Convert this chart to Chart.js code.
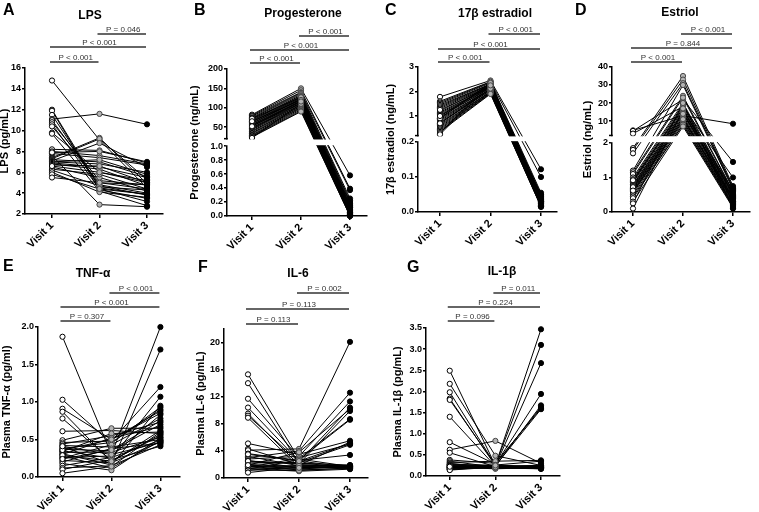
<!DOCTYPE html>
<html><head><meta charset="utf-8">
<script src="https://cdn.jsdelivr.net/npm/chart.js@4/dist/chart.umd.min.js"></script>
<style>
html,body{margin:0;padding:0;background:#fff;}
body{width:759px;height:512px;position:relative;overflow:hidden;}
canvas{position:absolute;}
</style></head><body>
<canvas id="cA"></canvas><canvas id="cB"></canvas><canvas id="cC"></canvas><canvas id="cD"></canvas>
<canvas id="cE"></canvas><canvas id="cF"></canvas><canvas id="cG"></canvas>
<script>
// ---------------- DATA ----------------
const visitLabels = ['Visit 1', 'Visit 2', 'Visit 3'];

// A: LPS (pg/mL)
const lpsV1 = [14.8, 12.0, 11.9, 11.5, 11.1, 11.0, 10.8, 10.6, 10.4, 9.8, 9.7, 8.2, 8.0, 7.8, 7.6, 7.4, 7.3, 7.2, 7.1, 7.0, 7.0, 6.9, 6.8, 6.7, 6.5, 6.3, 6.2, 6.0, 5.8, 5.5, 7.9, 6.6];
const lpsV2 = [9.1, 4.5, 4.3, 4.6, 11.6, 4.8, 5.2, 4.4, 5.0, 6.0, 4.2, 8.1, 7.6, 7.4, 2.9, 9.3, 9.2, 7.0, 8.8, 6.8, 7.2, 6.5, 6.3, 6.6, 5.5, 5.8, 4.7, 4.1, 4.4, 5.0, 8.0, 6.0];
const lpsV3 = [4.5, 3.9, 3.5, 4.3, 10.6, 4.0, 4.8, 3.2, 4.4, 5.0, 2.8, 6.9, 6.8, 6.7, 2.7, 4.9, 5.3, 5.6, 6.5, 6.0, 5.8, 5.5, 4.7, 5.0, 4.2, 4.4, 3.8, 3.6, 3.9, 4.8, 7.0, 5.2];
const lpsTicks = [2, 4, 6, 8, 10, 12, 14, 16];
const lpsP = ['P < 0.001', 'P < 0.001', 'P = 0.046'];

// B: Progesterone (ng/mL)
const progV1 = [82, 80, 78, 75, 73, 70, 68, 66, 64, 62, 60, 58, 56, 55, 53, 50, 48, 46, 45, 43, 40, 38, 35, 33, 30, 28, 26, 24, 22, 72, 65, 52];
const progV2 = [150, 145, 140, 138, 135, 132, 130, 128, 126, 125, 123, 122, 120, 118, 117, 115, 113, 112, 110, 108, 106, 104, 102, 100, 98, 95, 92, 90, 110, 127, 120, 116];
const progV3 = [0.58, 0.39, 0.37, 0.25, 0.22, 0.2, 0.18, 0.16, 0.15, 0.13, 0.12, 0.1, 0.09, 0.08, 0.07, 0.06, 0.05, 0.05, 0.04, 0.03, 0.03, 0.02, 0.02, 0.01, 0.01, 0.01, 0.0, 0.0, 0.12, 0.1, 0.14, 0.04];
const progTicks = [0, 0.2, 0.4, 0.6, 0.8, 1.0, 50, 100, 150, 200];
const progP = ['P < 0.001', 'P < 0.001', 'P < 0.001'];

// C: 17β estradiol (ng/mL)
const e2V1 = [1.78, 1.6, 1.55, 1.5, 1.45, 1.4, 1.35, 1.3, 1.2, 1.15, 1.1, 1.05, 1.0, 0.95, 0.9, 0.85, 0.8, 0.75, 0.7, 0.65, 0.6, 0.55, 0.5, 0.45, 0.4, 0.35, 0.3, 0.25, 1.25, 0.9, 0.7, 1.0];
const e2V2 = [2.45, 2.4, 2.38, 2.35, 2.3, 2.3, 2.28, 2.25, 2.25, 2.2, 2.2, 2.18, 2.15, 2.15, 2.1, 2.1, 2.08, 2.05, 2.05, 2.0, 2.0, 1.98, 1.95, 1.95, 1.92, 1.9, 2.4, 2.3, 2.2, 2.35, 2.12, 2.25];
const e2V3 = [0.122, 0.1, 0.055, 0.05, 0.048, 0.045, 0.042, 0.04, 0.038, 0.035, 0.033, 0.03, 0.03, 0.028, 0.027, 0.025, 0.025, 0.023, 0.022, 0.02, 0.02, 0.018, 0.018, 0.016, 0.015, 0.015, 0.035, 0.04, 0.03, 0.025, 0.045, 0.02];
const e2Ticks = [0, 0.1, 0.2, 1, 2, 3];
const e2P = ['P < 0.001', 'P < 0.001', 'P < 0.001'];

// D: Estriol (ng/mL)
const e3V1 = [4.8, 4.5, 3.0, 1.85, 1.8, 1.7, 1.2, 1.15, 1.1, 1.0, 0.95, 0.9, 0.88, 0.85, 0.8, 0.78, 0.75, 0.7, 0.68, 0.65, 0.6, 0.58, 0.55, 0.5, 0.45, 0.4, 0.3, 0.25, 0.1, 0.72, 0.62, 0.92];
const e3V2 = [13, 22, 18, 35, 33, 31, 30, 24, 23, 20, 19, 18, 17, 16, 15, 15, 14, 13, 12, 12, 11, 10, 10, 9, 8, 8, 7, 20, 16, 14, 11, 17];
const e3V3 = [8.5, 1.45, 1.0, 0.75, 0.7, 0.68, 0.65, 0.6, 0.58, 0.55, 0.52, 0.5, 0.48, 0.45, 0.42, 0.4, 0.38, 0.35, 0.32, 0.3, 0.28, 0.25, 0.22, 0.2, 0.18, 0.15, 0.12, 0.1, 0.62, 0.55, 0.4, 0.3];
const e3Ticks = [0, 1, 2, 10, 20, 30, 40];
const e3P = ['P < 0.001', 'P = 0.844', 'P < 0.001'];

// E: Plasma TNF-α (pg/ml)
const tnfV1 = [1.87, 1.03, 0.91, 0.87, 0.78, 0.61, 0.49, 0.46, 0.44, 0.42, 0.40, 0.38, 0.37, 0.35, 0.34, 0.33, 0.31, 0.30, 0.28, 0.26, 0.25, 0.22, 0.20, 0.18, 0.15, 0.12, 0.10, 0.05, 0.36, 0.29, 0.41, 0.24];
const tnfV2 = [0.30, 0.45, 0.50, 0.20, 0.22, 0.62, 0.65, 0.48, 0.55, 0.40, 0.18, 0.46, 0.35, 0.25, 0.58, 0.33, 0.16, 0.52, 0.12, 0.28, 0.43, 0.19, 0.38, 0.09, 0.26, 0.15, 0.23, 0.14, 0.50, 0.21, 0.30, 0.36];
const tnfV3 = [2.00, 0.93, 0.85, 0.62, 0.55, 0.58, 0.65, 1.20, 0.73, 0.50, 1.70, 0.90, 0.70, 1.07, 0.60, 0.53, 0.95, 0.67, 0.48, 0.83, 0.78, 0.47, 0.45, 0.52, 0.49, 0.43, 0.41, 0.60, 0.88, 0.57, 0.46, 0.75];
const tnfTicks = [0, 0.5, 1.0, 1.5, 2.0];
const tnfP = ['P = 0.307', 'P < 0.001', 'P < 0.001'];

// F: Plasma IL-6 (pg/mL)
const il6V1 = [15.3, 14.0, 11.7, 10.4, 9.5, 9.2, 8.9, 5.1, 4.3, 4.1, 3.6, 3.2, 3.0, 2.8, 2.6, 2.4, 2.2, 2.0, 1.9, 1.8, 1.7, 1.6, 1.5, 1.4, 1.3, 1.2, 1.1, 0.8, 2.5, 1.7, 3.5, 1.9];
const il6V2 = [2.8, 2.2, 3.0, 2.5, 1.9, 2.4, 1.6, 3.5, 2.0, 4.3, 2.6, 1.8, 4.0, 3.2, 1.5, 2.1, 2.3, 1.7, 3.8, 1.4, 1.2, 2.9, 1.3, 1.0, 2.7, 1.1, 1.9, 1.6, 2.2, 1.8, 2.5, 1.5];
const il6V3 = [1.7, 1.9, 5.0, 1.6, 1.8, 10.4, 1.5, 5.5, 1.6, 20.1, 3.4, 1.4, 12.6, 11.3, 1.7, 9.9, 4.9, 1.5, 10.2, 1.6, 1.4, 8.7, 1.8, 1.3, 8.6, 1.5, 5.3, 1.7, 1.6, 1.9, 5.1, 1.8];
const il6Ticks = [0, 4, 8, 12, 16, 20];
const il6P = ['P = 0.113', 'P = 0.113', 'P = 0.002'];

// G: Plasma IL-1β (pg/mL)
const il1V1 = [2.49, 2.18, 1.98, 1.83, 1.80, 1.40, 0.80, 0.62, 0.55, 0.38, 0.35, 0.32, 0.30, 0.28, 0.27, 0.26, 0.25, 0.24, 0.23, 0.22, 0.21, 0.20, 0.20, 0.19, 0.18, 0.17, 0.16, 0.15, 0.14, 0.22];
const il1V2 = [0.25, 0.48, 0.26, 0.24, 0.27, 0.23, 0.28, 0.83, 0.22, 0.30, 0.21, 0.35, 0.20, 0.24, 0.19, 0.26, 0.18, 0.23, 0.25, 0.22, 0.17, 0.21, 0.24, 0.20, 0.26, 0.19, 0.23, 0.22, 0.21, 0.25];
const il1V3 = [3.47, 0.25, 3.10, 2.67, 1.94, 1.67, 1.63, 0.30, 0.22, 1.60, 0.20, 0.37, 0.18, 1.58, 0.17, 0.35, 0.22, 0.24, 0.19, 0.21, 0.20, 0.23, 0.18, 0.26, 0.22, 0.19, 0.21, 0.25, 0.17, 0.20];
const il1Ticks = [0, 0.5, 1.0, 1.5, 2.0, 2.5, 3.0, 3.5];
const il1P = ['P = 0.096', 'P = 0.224', 'P = 0.011'];

// ---------------- PANELS ----------------
const f1 = v => v.toFixed(1);
const fInt = v => String(v);
const PANELS = [
  {id:'cA', letter:'A', title:'LPS', yTitle:'LPS (pg/mL)', v1:lpsV1, v2:lpsV2, v3:lpsV3, ticks:lpsTicks, p:lpsP, fmt:fInt, yMin:2, yMax:16,
   L:{cx:0, cy:0, cw:185, ch:250, pad:0, axL:25, axR:163, axT:68, axB:214, x1:52, u:47.5, lx:3, ly:15, tx:90, ty:19, bars:[62,47,34]}},
  {id:'cB', letter:'B', title:'Progesterone', yTitle:'Progesterone (ng/mL)', v1:progV1, v2:progV2, v3:progV3, ticks:progTicks, p:progP, fmt:v => v <= 1 ? v.toFixed(1) : String(v),
   brk:{lowMin:0, lowMax:1, highMin:20, highMax:200, lowFrac:0.476, gapFrac:0.05},
   L:{cx:185, cy:0, cw:190, ch:250, pad:5, axL:227, axR:367, axT:69, axB:216, x1:252, u:49, lx:194, ly:15, tx:303, ty:17, bars:[63,50,36]}},
  {id:'cC', letter:'C', title:'17\u03b2 estradiol', yTitle:'17\u03b2 estradiol (ng/mL)', v1:e2V1, v2:e2V2, v3:e2V3, ticks:e2Ticks, p:e2P, fmt:v => v < 0.5 ? v.toFixed(1) : String(v),
   brk:{lowMin:0, lowMax:0.2, highMin:0.2, highMax:3, lowFrac:0.483, gapFrac:0.044},
   L:{cx:375, cy:0, cw:190, ch:250, pad:10.5, axL:418, axR:557, axT:67, axB:212, x1:440, u:50.5, lx:385, ly:15, tx:495, ty:17, bars:[62,49,34]}},
  {id:'cD', letter:'D', title:'Estriol', yTitle:'Estriol (ng/mL)', v1:e3V1, v2:e3V2, v3:e3V3, ticks:e3Ticks, p:e3P, fmt:fInt,
   brk:{lowMin:0, lowMax:2, highMin:2, highMax:40, lowFrac:0.476, gapFrac:0.052},
   L:{cx:565, cy:0, cw:194, ch:250, pad:18, axL:612, axR:750, axT:67, axB:212, x1:633, u:50, lx:575, ly:15, tx:680, ty:16, bars:[62,48,34]}},
  {id:'cE', letter:'E', title:'TNF-\u03b1', yTitle:'Plasma TNF-\u03b1 (pg/ml)', v1:tnfV1, v2:tnfV2, v3:tnfV3, ticks:tnfTicks, p:tnfP, fmt:f1, yMin:0, yMax:2,
   L:{cx:0, cy:250, cw:185, ch:262, pad:2, axL:38, axR:183, axT:327, axB:477, x1:63, u:50, lx:3, ly:271, tx:93, ty:277, bars:[321,307,293]}},
  {id:'cF', letter:'F', title:'IL-6', yTitle:'Plasma IL-6 (pg/mL)', v1:il6V1, v2:il6V2, v3:il6V3, ticks:il6Ticks, p:il6P, fmt:fInt, yMin:0, yMax:22,
   L:{cx:185, cy:250, cw:190, ch:262, pad:11, axL:224, axR:368, axT:329, axB:478, x1:248, u:51, lx:198, ly:272, tx:298, ty:277, bars:[324,309,293]}},
  {id:'cG', letter:'G', title:'IL-1\u03b2', yTitle:'Plasma IL-1\u03b2 (pg/mL)', v1:il1V1, v2:il1V2, v3:il1V3, ticks:il1Ticks, p:il1P, fmt:f1, yMin:0, yMax:3.5,
   L:{cx:375, cy:250, cw:190, ch:262, pad:18, axL:426, axR:567, axT:328, axB:476, x1:451, u:48, lx:407, ly:272, tx:502, ty:275, bars:[321,307,293]}}
];
const BY_ID = {};
PANELS.forEach(p => BY_ID[p.id] = p);

const FONT = '"Liberation Sans", Arial, Helvetica, sans-serif';
Chart.defaults.font.family = FONT;
Chart.defaults.color = '#000';

// ---------------- broken-axis scale ----------------
class BrokenScale extends Chart.LinearScale {
  _b() { return BY_ID[this.chart.canvas.id].brk; }
  determineDataLimits() { const b = this._b(); this.min = b.lowMin; this.max = b.highMax; }
  buildTicks() { return BY_ID[this.chart.canvas.id].ticks.map(v => ({value: v})); }
  _geo() {
    const b = this._b(); const h = this.bottom - this.top;
    const lowTop = this.bottom - h * b.lowFrac; const highBot = lowTop - h * b.gapFrac;
    return {b, lowTop, highBot};
  }
  getPixelForValue(v) {
    if (v === null || v === undefined) return NaN;
    const {b, lowTop, highBot} = this._geo();
    if (v <= b.lowMax) return this.bottom - (v - b.lowMin) / (b.lowMax - b.lowMin) * (this.bottom - lowTop);
    if (v < b.highMin) return lowTop - (v - b.lowMax) / (b.highMin - b.lowMax) * (lowTop - highBot);
    return highBot - (v - b.highMin) / (b.highMax - b.highMin) * (highBot - this.top);
  }
  getValueForPixel(p) {
    const {b, lowTop, highBot} = this._geo();
    if (p >= lowTop) return b.lowMin + (this.bottom - p) / (this.bottom - lowTop) * (b.lowMax - b.lowMin);
    if (p <= highBot) return b.highMin + (highBot - p) / (highBot - this.top) * (b.highMax - b.highMin);
    return b.lowMax;
  }
}
BrokenScale.id = 'broken';
BrokenScale.defaults = {};
Chart.register(BrokenScale);

// ---------------- annotation plugin ----------------
const annot = {
  id: 'annot',
  afterDatasetsDraw(chart) {
    const P = BY_ID[chart.canvas.id];
    if (!P.brk) return;
    const ys = chart.scales.y, ctx = chart.ctx, ca = chart.chartArea;
    const hb = ys.getPixelForValue(P.brk.highMin + 1e-9), lt = ys.getPixelForValue(P.brk.lowMax);
    ctx.save();
    ctx.fillStyle = '#fff';
    ctx.fillRect(ca.left - 1.5, hb + 0.8, ca.right - ca.left + 6, lt - hb - 1.6);
    ctx.strokeStyle = '#000'; ctx.lineWidth = 1.5;
    ctx.beginPath(); ctx.moveTo(ca.left - 3, hb); ctx.lineTo(ca.left + 0.75, hb); ctx.stroke();
    ctx.restore();
  },
  afterDraw(chart) {
    const P = BY_ID[chart.canvas.id], L = P.L, ctx = chart.ctx, xs = chart.scales.x;
    ctx.save();
    ctx.fillStyle = '#000';
    ctx.textBaseline = 'alphabetic';
    ctx.font = 'bold 16px ' + FONT; ctx.textAlign = 'left';
    ctx.fillText(P.letter, L.lx - L.cx, L.ly - L.cy);
    ctx.font = 'bold 12px ' + FONT; ctx.textAlign = 'center';
    ctx.fillText(P.title, L.tx - L.cx, L.ty - L.cy);
    const pairs = [[1, 2], [1, 3], [2, 3]];
    pairs.forEach((pr, k) => {
      const y = L.bars[k] - L.cy;
      const xa = xs.getPixelForValue(pr[0]) - 2, xb = xs.getPixelForValue(pr[1]) - 1;
      ctx.strokeStyle = '#333'; ctx.lineWidth = 1.3;
      ctx.beginPath(); ctx.moveTo(xa, y); ctx.lineTo(xb, y); ctx.stroke();
      ctx.fillStyle = '#333'; ctx.font = '8px ' + FONT; ctx.textAlign = 'center';
      ctx.fillText(P.p[k], (xa + xb) / 2 + 1.5, y - 2.5);
    });
    ctx.restore();
  }
};

// ---------------- build charts ----------------
PANELS.forEach(P => {
  const L = P.L;
  const cv = document.getElementById(P.id);
  cv.width = L.cw; cv.height = L.ch;
  cv.style.left = L.cx + 'px'; cv.style.top = L.cy + 'px';
  cv.style.width = L.cw + 'px'; cv.style.height = L.ch + 'px';

  const xMin = 1 - (L.x1 - L.axL) / L.u;
  const xMax = 3 + (L.axR - (L.x1 + 2 * L.u)) / L.u;
  const yW = L.axL - L.cx - L.pad;
  const xH = L.cy + L.ch - L.axB;

  const lineSets = P.v1.map((_, i) => ({
    data: [{x: 1, y: P.v1[i]}, {x: 2, y: P.v2[i]}, {x: 3, y: P.v3[i]}],
    borderColor: '#000', borderWidth: 1, pointRadius: 0, clip: false, order: 1, tension: 0
  }));
  const ptStyle = [
    {bg: '#fff', bd: '#000'}, {bg: '#b4b4b4', bd: '#444'}, {bg: '#000', bd: '#000'}
  ];
  const pointSets = [P.v1, P.v2, P.v3].map((arr, k) => ({
    data: arr.map(v => ({x: k + 1, y: v})),
    showLine: false, pointRadius: 2.6, pointBorderWidth: 1,
    pointBackgroundColor: ptStyle[k].bg, pointBorderColor: ptStyle[k].bd,
    clip: false, order: 0
  }));

  const yScale = {
    type: P.brk ? 'broken' : 'linear',
    position: 'left',
    afterFit: s => { s.width = yW; s.paddingTop = 0; s.paddingBottom = 0; },
    ticks: {callback: v => P.fmt(v), font: {size: 9, weight: 'bold'}, color: '#000', padding: 1, autoSkip: false},
    grid: {drawOnChartArea: false, drawTicks: true, tickLength: 3, color: '#000', lineWidth: 1.5},
    border: {display: true, color: '#000', width: 1.5},
    title: {display: true, text: P.yTitle, font: {size: 11, weight: 'bold'}, color: '#000', padding: {top: -1.5, bottom: 0}}
  };
  if (!P.brk) {
    yScale.min = P.yMin; yScale.max = P.yMax;
    yScale.afterBuildTicks = s => { s.ticks = P.ticks.map(v => ({value: v})); };
  }

  new Chart(cv, {
    type: 'line',
    data: {datasets: lineSets.concat(pointSets)},
    options: {
      responsive: false, animation: false, events: [],
      layout: {padding: {left: L.pad, top: L.axT - L.cy, right: L.cx + L.cw - L.axR, bottom: 0}},
      plugins: {legend: {display: false}, tooltip: {enabled: false}, title: {display: false}},
      scales: {
        x: {
          type: 'linear', min: xMin, max: xMax,
          afterBuildTicks: s => { s.ticks = [1, 2, 3].map(v => ({value: v})); },
          afterFit: s => { s.height = xH; s.paddingLeft = 0; s.paddingRight = 0; },
          ticks: {callback: v => visitLabels[Math.round(v) - 1], minRotation: 45, maxRotation: 45,
                  font: {size: 11, weight: 'bold'}, color: '#000', padding: 1, autoSkip: false},
          grid: {drawOnChartArea: false, drawTicks: true, tickLength: 4, color: '#000', lineWidth: 1.5},
          border: {display: true, color: '#000', width: 1.5}
        },
        y: yScale
      }
    },
    plugins: [annot]
  });
});
</script>
</body></html>
